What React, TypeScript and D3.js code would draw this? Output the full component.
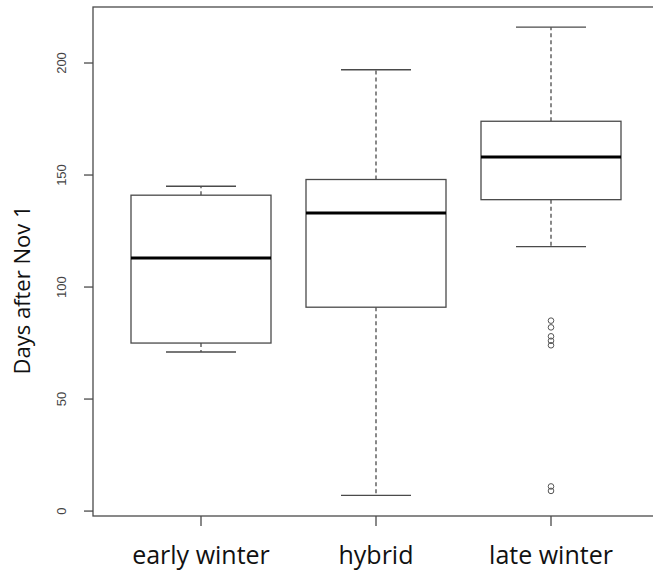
import React from "react";
import * as d3 from "d3";

const categories = ["early winter", "hybrid", "late winter"];
const whiskerLow = [71, 7, 118];
const q1 = [75, 91, 139];
const median = [113, 133, 158];
const q3 = [141, 148, 174];
const whiskerHigh = [145, 197, 216];
const outliers = [[], [], [85, 82, 78, 76, 74, 11, 9]];
const yTicks = [0, 50, 100, 150, 200];

const W = 653;
const H = 571;
const left = 93;
const right = 654;
const top = 7;
const bottom = 516;

export default function App() {
  const y = d3.scaleLinear().domain([-2.2, 225]).range([bottom, top]);
  const x = d3.scaleLinear().domain([0, 2]).range([201, 551]);
  const boxW = 140;
  const capW = 70;
  const stroke = "#4a4a4a";
  return (
    <svg
      width={W}
      height={H}
      style={{ position: "absolute", left: 0, top: 0, background: "#fff" }}
    >
      <rect x={0} y={0} width={W} height={H} fill="#fff" />
      {categories.map((c, i) => {
        const cx = x(i);
        return (
          <g key={c}>
            <line x1={cx} x2={cx} y1={y(q3[i])} y2={y(whiskerHigh[i])}
              stroke={stroke} strokeWidth={1.3} strokeDasharray="4,3" />
            <line x1={cx} x2={cx} y1={y(q1[i])} y2={y(whiskerLow[i])}
              stroke={stroke} strokeWidth={1.3} strokeDasharray="4,3" />
            <line x1={cx - capW / 2} x2={cx + capW / 2}
              y1={y(whiskerHigh[i])} y2={y(whiskerHigh[i])}
              stroke={stroke} strokeWidth={1.3} />
            <line x1={cx - capW / 2} x2={cx + capW / 2}
              y1={y(whiskerLow[i])} y2={y(whiskerLow[i])}
              stroke={stroke} strokeWidth={1.3} />
            <rect x={cx - boxW / 2} y={y(q3[i])} width={boxW}
              height={y(q1[i]) - y(q3[i])} fill="#fff"
              stroke={stroke} strokeWidth={1.3} />
            <line x1={cx - boxW / 2} x2={cx + boxW / 2}
              y1={y(median[i])} y2={y(median[i])}
              stroke="#000" strokeWidth={3} />
            {outliers[i].map((v, j) => (
              <circle key={j} cx={cx} cy={y(v)} r={2.8} fill="none"
                stroke="#555" strokeWidth={1} />
            ))}
            <line x1={cx} x2={cx} y1={bottom} y2={bottom + 10}
              stroke={stroke} strokeWidth={1.3} />
            <text x={cx} y={564} textAnchor="middle"
              fontFamily="'Open Sans', sans-serif" fontSize={25} fill="#111">
              {c}
            </text>
          </g>
        );
      })}
      <rect x={left} y={top} width={right - left} height={bottom - top}
        fill="none" stroke={stroke} strokeWidth={1.3} />
      {yTicks.map((t) => (
        <g key={t}>
          <line x1={left - 9} x2={left} y1={y(t)} y2={y(t)}
            stroke={stroke} strokeWidth={1.3} />
          <text transform={`translate(${left - 27},${y(t)}) rotate(-90)`}
            textAnchor="middle" fontFamily="'Liberation Sans', Arial, sans-serif"
            fontSize={13} fill="#444">
            {t}
          </text>
        </g>
      ))}
      <text transform={`translate(30,290) rotate(-90)`} textAnchor="middle"
        fontFamily="'Open Sans', sans-serif" fontSize={22} fill="#111">
        Days after Nov 1
      </text>
    </svg>
  );
}
